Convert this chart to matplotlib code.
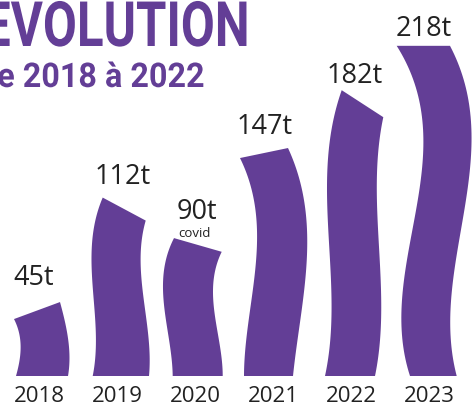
import numpy as np
import matplotlib
matplotlib.use("Agg")
import matplotlib.pyplot as plt
from matplotlib.patches import Polygon
from matplotlib.patheffects import AbstractPathEffect
from matplotlib.transforms import Affine2D

# ---------------- data ----------------
years = ["2018", "2019", "2020", "2021", "2022", "2023"]
tonnes = [45, 112, 90, 147, 182, 218]
value_labels = [f"{v}t" for v in tonnes]
notes = ["", "", "covid", "", "", ""]
title = "EVOLUTION"
subtitle = "de 2018 à 2022"

# ---------------- style ----------------
PURPLE = "#633E96"
TEXT = "#222222"
W, H = 474, 407
PX_X = 78.0      # pixels per category step
X0 = 39.0        # pixel position of first category
PX_Y = 1.51      # pixels per tonne
BASE = 31.0      # pixels from bottom of figure to baseline

# wavy ribbon decoration (pixel offsets from category centre at t = 0, 1/3, 2/3, 1)
left_wave = [[-23, -19, -19, -25], [-24.3, -22, -25.5, -14.3], [-22.3, -27.5, -32, -21],
             [-29, -22, -16, -33], [-26, -20, -24, -9.3], [-19, -23, -6, -32.3]]
right_wave = [[29, 30.3, 27, 21], [32, 30, 24, 28.7], [27.7, 23, 18, 26.7],
              [20, 30, 33.7, 15], [24, 30, 26, 32.3], [27.7, 26, 42, 21]]
# slant of the top edge (pixels up from the value level) for left / right corner
top_slant = [(-11, 6), (9.3, -13.7), (2, -11.7), (-4, 6), (11, -16), (1, 1)]
# value label offsets (pixels: dx from centre, dy above value level)
lab_off = [(-5, 30), (6, 30), (2, 28), (-8, 27), (3.5, 25), (-5, 18)]


class Squeeze(AbstractPathEffect):
    def __init__(self, sx):
        super().__init__()
        self.sx = sx

    def draw_path(self, renderer, gc, tpath, affine, rgbFace=None):
        renderer.draw_path(gc, tpath, Affine2D().scale(self.sx, 1) + affine, rgbFace)


fig = plt.figure(figsize=(W / 100, H / 100), dpi=100)
ax = fig.add_axes([0, 0, 1, 1])
ax.set_xlim(-X0 / PX_X, (W - X0) / PX_X)
ax.set_ylim(-BASE / PX_Y, (H - BASE) / PX_Y)
ax.axis("off")

t = np.linspace(0, 1, 80)
tk = np.array([0, 1 / 3, 2 / 3, 1])
for i, (yr, v) in enumerate(zip(years, tonnes)):
    lc = np.polyfit(tk, np.array(left_wave[i]) / PX_X, 3)
    rc = np.polyfit(tk, np.array(right_wave[i]) / PX_X, 3)
    ytl = v + top_slant[i][0] / PX_Y
    ytr = v + top_slant[i][1] / PX_Y
    lx = i + np.polyval(lc, t)
    ly = t * ytl
    rx = i + np.polyval(rc, t[::-1])
    ry = t[::-1] * ytr
    pts = np.column_stack([np.concatenate([lx, rx]), np.concatenate([ly, ry])])
    ax.add_patch(Polygon(pts, closed=True, facecolor=PURPLE, edgecolor="none"))

    dx, dy = lab_off[i]
    ax.annotate(value_labels[i], (i, v), xytext=(dx * 0.72, dy * 0.72),
                textcoords="offset points", ha="center", va="center",
                fontsize=19.5, family="Open Sans", weight="medium", color=TEXT)
    if notes[i]:
        ax.annotate(notes[i], (i, v), xytext=(-1 * 0.72, 7 * 0.72),
                    textcoords="offset points", ha="center", va="center",
                    fontsize=9.5, family="Open Sans", weight="medium", color=TEXT)
    ax.annotate(yr, (i, 0), xytext=(0, -21 * 0.72), textcoords="offset points",
                ha="center", va="center", fontsize=16, family="Open Sans",
                weight="medium", color=TEXT)

fig.text(-17 / W, (H - 46) / H, title, ha="left", va="baseline", fontsize=45,
         family="Roboto", weight="bold", color=PURPLE, path_effects=[Squeeze(0.788)])
fig.text(-21 / W, (H - 87) / H, subtitle, ha="left", va="baseline", fontsize=24.5,
         family="Roboto", weight="bold", color=PURPLE, path_effects=[Squeeze(0.95)])

fig.savefig("out.png", dpi=100)
